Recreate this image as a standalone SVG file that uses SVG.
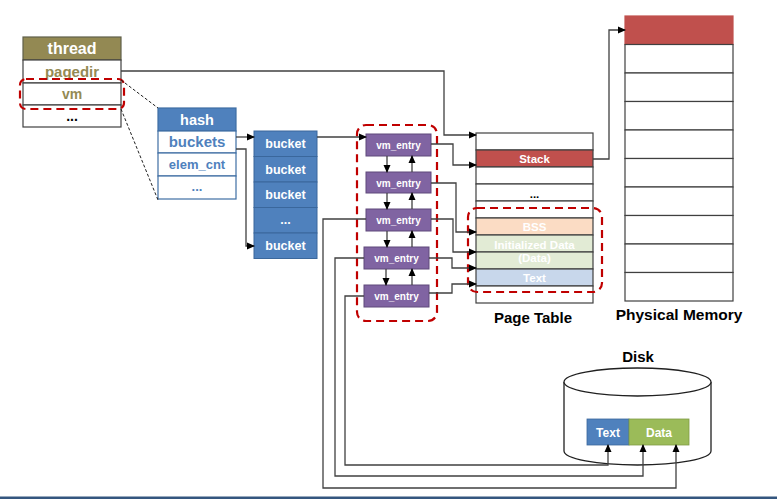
<svg xmlns="http://www.w3.org/2000/svg" width="777" height="500" viewBox="0 0 777 500">
<style>
text{font-family:"Liberation Sans","Noto Sans",Arial,sans-serif;font-weight:bold;text-anchor:middle}
.w{fill:#fff}
.cell{fill:#fff;stroke:#404040;stroke-width:1.2}
.thr{stroke:#5f5f4a;stroke-width:1.2}
.hsh{stroke:#3f6ea3;stroke-width:1.2}
.bk{fill:#4f81bd;stroke:#3a679c;stroke-width:1}
.vme{fill:#8064a2;stroke:#5f497a;stroke-width:1}
.red{fill:none;stroke:#c00000;stroke-width:2.2;stroke-dasharray:8,5}
.con{fill:none;stroke:#404040;stroke-width:1.3}
.arr{marker-end:url(#ah)}
.dsh{fill:none;stroke:#202020;stroke-width:1;stroke-dasharray:3,2}
</style>
<defs>
<marker id="ah" markerWidth="8" markerHeight="8" refX="7" refY="4" orient="auto" markerUnits="userSpaceOnUse">
<path d="M0,0.5 L8,4 L0,7.5 Z" fill="#000"/>
</marker>
</defs>

<g id="thread">
<rect x="23" y="37" width="98" height="23" fill="#938953" class="thr"/>
<rect x="23" y="60" width="98" height="23" class="cell"/>
<rect x="23" y="83" width="98" height="22" class="cell"/>
<rect x="23" y="105" width="98" height="22" class="cell"/>
<text x="72" y="54" class="w" font-size="16">thread</text>
<text x="72" y="77" fill="#948a54" font-size="15">pagedir</text>
<text x="72" y="99" fill="#948a54" font-size="14">vm</text>
<text x="72" y="121" fill="#000" font-size="14">...</text>
</g>

<g id="hash">
<rect x="158" y="108" width="78" height="23" fill="#4f81bd" class="hsh"/>
<rect x="158" y="131" width="78" height="22" fill="#fff" class="hsh"/>
<rect x="158" y="153" width="78" height="23" fill="#fff" class="hsh"/>
<rect x="158" y="176" width="78" height="23" fill="#fff" class="hsh"/>
<text x="197" y="125" class="w" font-size="14.5">hash</text>
<text x="197" y="147" fill="#4f81bd" font-size="15">buckets</text>
<text x="197" y="169" fill="#4f81bd" font-size="13">elem_cnt</text>
<text x="197" y="191" fill="#4f81bd" font-size="13">...</text>
</g>

<g id="buckets">
<rect x="254" y="131" width="63" height="25.5" class="bk"/>
<rect x="254" y="156.5" width="63" height="25.5" class="bk"/>
<rect x="254" y="182" width="63" height="25.5" class="bk"/>
<rect x="254" y="207.5" width="63" height="25.5" class="bk"/>
<rect x="254" y="233" width="63" height="25.5" class="bk"/>
<text x="285.5" y="148" class="w" font-size="12.5">bucket</text>
<text x="285.5" y="173.5" class="w" font-size="12.5">bucket</text>
<text x="285.5" y="199" class="w" font-size="12.5">bucket</text>
<text x="285.5" y="224" class="w" font-size="12.5">...</text>
<text x="285.5" y="250" class="w" font-size="12.5">bucket</text>
</g>

<g id="vm_entries">
<rect x="366" y="134" width="65" height="22" class="vme"/>
<rect x="366" y="172" width="65" height="21" class="vme"/>
<rect x="366" y="209" width="65" height="22" class="vme"/>
<rect x="364" y="247" width="65" height="22" class="vme"/>
<rect x="364" y="285" width="65" height="22" class="vme"/>
<text x="398.5" y="148.5" class="w" font-size="10">vm_entry</text>
<text x="398.5" y="186.5" class="w" font-size="10">vm_entry</text>
<text x="398.5" y="223.5" class="w" font-size="10">vm_entry</text>
<text x="396.5" y="261.5" class="w" font-size="10">vm_entry</text>
<text x="396.5" y="299.5" class="w" font-size="10">vm_entry</text>
</g>

<g id="page_table">
<rect x="476" y="133" width="117" height="17" class="cell"/>
<rect x="476" y="150" width="117" height="17" class="cell" style="fill:#c0504d"/>
<rect x="476" y="167" width="117" height="17" class="cell"/>
<rect x="476" y="184" width="117" height="17" class="cell"/>
<rect x="476" y="201" width="117" height="17" class="cell"/>
<rect x="476" y="218" width="117" height="17" class="cell" style="fill:#fbdcc4"/>
<rect x="476" y="235" width="117" height="17" class="cell" style="fill:#e2ebd5"/>
<rect x="476" y="252" width="117" height="17" class="cell" style="fill:#e2ebd5"/>
<rect x="476" y="269" width="117" height="17" class="cell" style="fill:#c8d7eb"/>
<rect x="476" y="286" width="117" height="17" class="cell"/>
<text x="534.5" y="163" class="w" font-size="11.5">Stack</text>
<text x="534.5" y="198" fill="#000" font-size="11.5">...</text>
<text x="534.5" y="231" class="w" font-size="11.5">BSS</text>
<text x="534.5" y="249" class="w" font-size="11.5">Initialized Data</text>
<text x="534.5" y="262" class="w" font-size="11.5">(Data)</text>
<text x="534.5" y="282" class="w" font-size="11.5">Text</text>
<text x="533" y="323" fill="#000" font-size="15">Page Table</text>
</g>

<g id="physical_memory">
<rect x="625" y="16" width="108" height="28.5" class="cell" style="fill:#c0504d;stroke:#c0504d"/>
<rect x="625" y="44.5" width="108" height="28.5" class="cell"/>
<rect x="625" y="73" width="108" height="28.5" class="cell"/>
<rect x="625" y="101.5" width="108" height="28.5" class="cell"/>
<rect x="625" y="130" width="108" height="28.5" class="cell"/>
<rect x="625" y="158.5" width="108" height="28.5" class="cell"/>
<rect x="625" y="187" width="108" height="28.5" class="cell"/>
<rect x="625" y="215.5" width="108" height="28.5" class="cell"/>
<rect x="625" y="244" width="108" height="28.5" class="cell"/>
<rect x="625" y="272.5" width="108" height="28.5" class="cell"/>
<text x="679" y="320" fill="#000" font-size="15.5">Physical Memory</text>
</g>

<g id="disk">
<path d="M564,382 L564,451 A73.5,14 0 0 0 711,451 L711,382" fill="#fff" stroke="#202020" stroke-width="1.3"/>
<ellipse cx="637.5" cy="382" rx="73.5" ry="14" fill="#fff" stroke="#202020" stroke-width="1.3"/>
<rect x="587" y="419" width="42" height="26" fill="#4f81bd" stroke="#3a679c" stroke-width="0.8"/>
<rect x="629" y="419" width="60" height="26" fill="#9bbb59" stroke="#7f9c45" stroke-width="0.8"/>
<text x="608" y="437" class="w" font-size="12">Text</text>
<text x="659" y="437" class="w" font-size="12">Data</text>
<text x="638" y="362" fill="#000" font-size="15">Disk</text>
</g>

<g id="highlights">
<rect x="20" y="79" width="104" height="30" rx="6" class="red"/>
<rect x="357" y="125" width="80" height="196" rx="9" class="red"/>
<rect x="468" y="208" width="134" height="84" rx="9" class="red"/>
</g>

<g id="connectors">
<line x1="121" y1="80" x2="158" y2="108" class="dsh"/>
<line x1="121" y1="109" x2="158" y2="200" class="dsh"/>
<path d="M121,71 H444 V135 H476" class="con arr"/>
<path d="M236,137 H254" class="con arr"/>
<path d="M236,149 H246 V246 H254" class="con arr"/>
<path d="M317,137 H366" class="con arr"/>
<path d="M387,156 V172" class="con arr"/>
<path d="M412,172 V156" class="con arr"/>
<path d="M387,193 V209" class="con arr"/>
<path d="M412,209 V193" class="con arr"/>
<path d="M387,231 V247" class="con arr"/>
<path d="M412,247 V231" class="con arr"/>
<path d="M386,269 V285" class="con arr"/>
<path d="M412,285 V269" class="con arr"/>
<path d="M431,144 H453 V165 H476" class="con arr"/>
<path d="M431,183 H456 V232 H476" class="con arr"/>
<path d="M431,219 H453 V252 H476" class="con arr"/>
<path d="M429,258 H452 V268 H476" class="con arr"/>
<path d="M429,293 H452 V284 H476" class="con arr"/>
<path d="M593,159 H609 V30 H625" class="con arr"/>
<path d="M366,219 H323 V488 H676 V445" class="con arr"/>
<path d="M364,258 H335 V476 H643 V445" class="con arr"/>
<path d="M364,296 H345 V465 H608 V445" class="con arr"/>
</g>

<rect x="0" y="496.5" width="777" height="2.5" fill="#34567f"/>
</svg>
